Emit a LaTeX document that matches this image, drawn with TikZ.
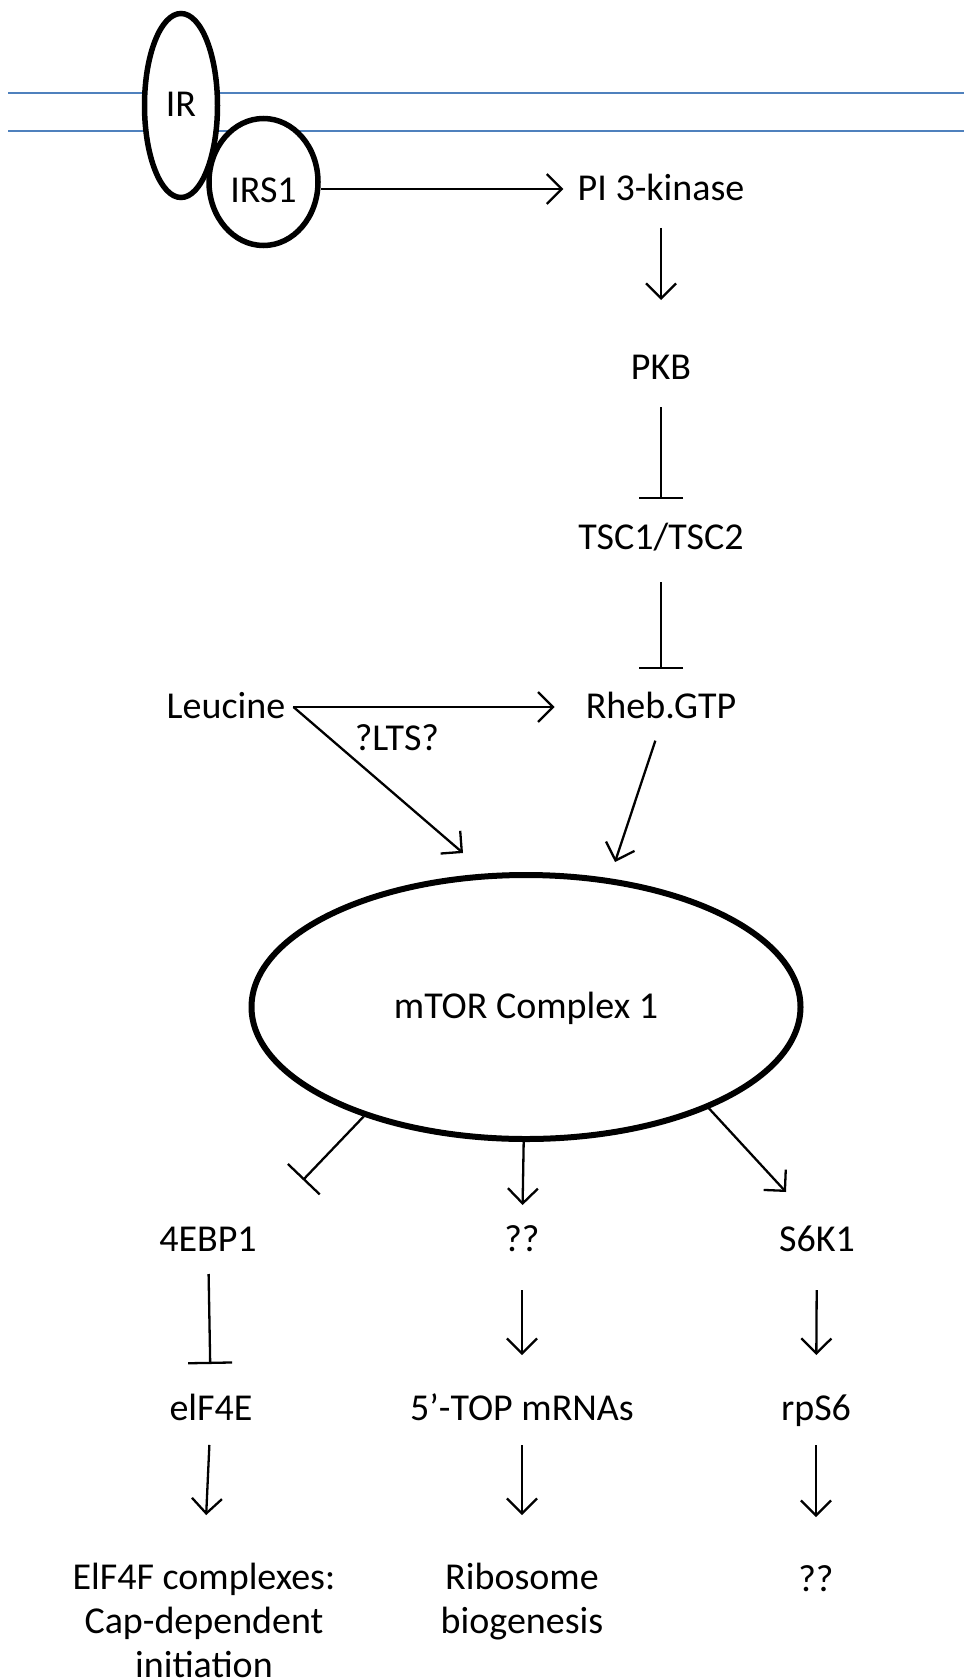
\documentclass[tikz,border=0pt]{standalone}
\usepackage{fontspec}
\setmainfont{Carlito}
\usetikzlibrary{arrows.meta,shapes.geometric}
\definecolor{memblue}{RGB}{79,129,189}
\tikzset{
  lab/.style={inner sep=0pt, text height=27.5pt, text depth=5.3pt, font=\fontsize{38}{45}\selectfont},
  multi/.style={inner sep=0pt, align=center, anchor=north, font=\fontsize{38}{44}\selectfont},
  arr/.style={line width=2.3pt, -{Straight Barb[length=15pt,width=30pt,line width=2.3pt]}},
  inh/.style={line width=2.3pt, -{Bar[width=44pt,line width=2.3pt]}},
  oval/.style={ellipse, draw, line width=6pt, fill=white, inner sep=0pt, font=\fontsize{38}{45}\selectfont},
  mem/.style={line width=1.6pt, draw=memblue}
}
\begin{document}
\begin{tikzpicture}[x=1pt,y=-1pt]
\useasboundingbox (0,0) rectangle (964,1680);
% membrane
\draw[mem] (8,93) -- (964,93);
\draw[mem] (8,131) -- (964,131);
% receptor
\node[oval, line width=5.5pt, minimum width=73pt, minimum height=184pt, text height=27.5pt, text depth=5.3pt] (ir) at (181,105.5) {IR};
\node[oval, line width=5.5pt, minimum width=109pt, minimum height=127pt, text height=47pt, text depth=5.3pt] (irs1) at (263.5,182) {IRS1};
% top column
\node[lab] (pi) at (661,189) {PI 3-kinase};
\node[lab] (pkb) at (661,368) {PKB};
\node[lab] (tsc) at (661,538) {TSC1/TSC2};
\node[lab] (rheb) at (661,707) {Rheb.GTP};
\node[lab, inner xsep=8pt] (leu) at (226,707) {Leucine};
\node[lab] (lts) at (397,739) {?LTS?};
\node[oval, minimum width=549pt, minimum height=264pt, text height=27.5pt, text depth=5.3pt] (mtor) at (526,1007) {mTOR Complex 1};
% lower rows
\node[lab] (ebp) at (208,1240) {4EBP1};
\node[lab] (q1) at (522,1240) {??};
\node[lab] (s6k) at (817,1240) {S6K1};
\node[lab] (eif) at (211,1409) {elF4E};
\node[lab] (top) at (522,1409) {5’-TOP mRNAs};
\node[lab] (rps) at (816,1409) {rpS6};
\node[multi] (cap) at (204,1563) {ElF4F complexes:\\Cap-dependent\\initiation};
\node[multi] (ribo) at (522,1563) {Ribosome\\biogenesis};
\node[multi] (q2) at (816,1565) {??};
% coordinates for free ends
\coordinate (leutip) at (463,853);
\coordinate (rhebtip) at (615,862);
\coordinate (ebptip) at (303,1180);
\coordinate (s6tip) at (786,1192);
% connectors
\draw[arr, shorten >=14pt] (irs1.east |- pi.west) -- (pi.west);
\draw[arr, shorten <=39pt, shorten >=68pt] (pi.center) -- (pkb.center);
\draw[inh, shorten <=39pt, shorten >=39pt] (pkb.center) -- (tsc.center);
\draw[inh, shorten <=44pt, shorten >=38pt] (tsc.center) -- (rheb.center);
\draw[arr, shorten >=31pt] (leu.east) -- (rheb.west);
\draw[arr] (leu.east) -- (leutip);
\draw[arr, shorten <=18pt] (rheb.south) -- (rhebtip);
\draw[inh] (mtor.-146) -- (ebptip);
\draw[arr, shorten >=35pt] (mtor) -- (q1.center);
\draw[arr] (mtor.-29) -- (s6tip);
\draw[inh, shorten <=34pt, shorten >=45pt] (ebp.center) -- (eif.center);
\draw[arr, shorten <=50pt, shorten >=54pt] (q1.center) -- (top.center);
\draw[arr, shorten <=50pt, shorten >=54pt] (s6k.center) -- (rps.center);
\draw[arr, shorten <=36pt, shorten >=48pt] (eif.center) -- (cap.north);
\draw[arr, shorten <=36pt, shorten >=48pt] (top.center) -- (ribo.north);
\draw[arr, shorten <=36pt, shorten >=48pt] (rps.center) -- (q2.north);
\end{tikzpicture}
\end{document}
